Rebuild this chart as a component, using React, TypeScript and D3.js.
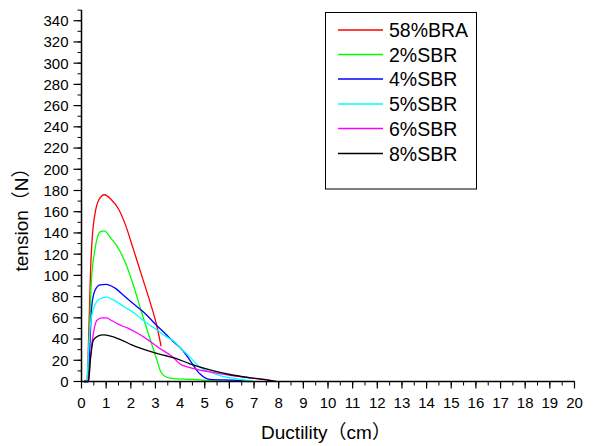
import React from "react";
import * as d3 from "d3";

const W = 597;
const H = 446;

const seriesNames = ["58%BRA", "2%SBR", "4%SBR", "5%SBR", "6%SBR", "8%SBR"];
const seriesColors = ["#ff0000", "#00ff00", "#0000ff", "#00ffff", "#ff00ff", "#000000"];

const braX = [0.1, 0.22, 0.3, 0.37, 0.45, 0.54, 0.7, 0.93, 1.22, 1.49, 1.76, 2.1, 2.44, 2.78, 3.05, 3.23];
const braY = [0, 0, 50, 106, 140, 157, 171, 176, 171, 163, 149, 125, 100, 75, 53, 33];

const sbr2X = [0.1, 0.26, 0.33, 0.4, 0.55, 0.75, 0.93, 1.16, 1.43, 1.76, 2.1, 2.44, 2.78, 3.05, 3.22, 3.46, 3.68, 4.55, 5.5, 6.9];
const sbr2Y = [0, 0, 50, 94, 125, 141, 142, 136, 128, 113, 91, 65, 40, 21, 9, 4, 3, 2, 0.5, 0];

const sbr4X = [0.1, 0.29, 0.35, 0.42, 0.55, 0.75, 1.0, 1.36, 1.76, 2.17, 2.58, 3.0, 3.4, 3.8, 4.0, 4.4, 4.81, 5.21, 6.3, 6.8];
const sbr4Y = [0, 0, 40, 72, 86, 91, 91.5, 88, 80, 72, 64, 54, 45, 36, 32, 20, 7, 2, 1, 0];

const sbr5X = [0.05, 0.21, 0.29, 0.36, 0.49, 0.75, 1.02, 1.36, 1.76, 2.17, 2.58, 2.98, 3.39, 3.79, 4.0, 4.4, 4.81, 5.21, 5.62, 6.3, 6.9, 7.0];
const sbr5Y = [0, 0, 30, 53, 69, 78, 79.5, 76, 70, 64, 56, 50, 43, 37, 32, 23, 13.5, 9, 5.5, 2.5, 0.5, 0];

const sbr6X = [0.1, 0.29, 0.37, 0.49, 0.62, 0.82, 1.02, 1.22, 1.49, 1.9, 2.31, 2.71, 3.12, 3.7, 4.0, 4.4, 5.21, 6.02, 6.84, 7.65, 7.8];
const sbr6Y = [0, 0, 25, 46.5, 57.5, 60, 60, 57.5, 54, 50, 45, 39, 32, 23, 16.5, 13, 9, 5.7, 3.5, 1, 0];

const sbr8X = [0.1, 0.28, 0.35, 0.48, 0.68, 0.88, 1.22, 1.63, 2.04, 2.44, 2.98, 3.39, 3.79, 4.4, 5.21, 6.02, 6.84, 7.65, 7.9];
const sbr8Y = [0, 0, 18, 39, 43, 44, 42.5, 39, 34.5, 31, 27, 24.5, 22, 16.7, 11, 6.6, 3.5, 1, 0];

const seriesX = [braX, sbr2X, sbr4X, sbr5X, sbr6X, sbr8X];
const seriesY = [braY, sbr2Y, sbr4Y, sbr5Y, sbr6Y, sbr8Y];

const xMajorTicks = d3.range(0, 21, 1);
const xMinorTicks = d3.range(0, 20.01, 0.5);
const yMajorTicks = d3.range(0, 341, 20);
const yMinorTicks = d3.range(0, 351, 10);

const FONT = "'Liberation Sans', Arial, 'Noto Sans CJK SC', sans-serif";

export default function App() {
  const x = d3.scaleLinear().domain([0, 20]).range([81.5, 574.5]);
  const y = d3.scaleLinear().domain([0, 350]).range([381.5, 10.1]);

  const line = d3
    .line<[number, number]>()
    .x((d) => x(d[0]))
    .y((d) => y(d[1]))
    .curve(d3.curveMonotoneX);

  const legendX0 = 338;
  const legendX1 = 383;
  const legendRows = [30, 54.5, 79, 104, 128.5, 153.5];

  return (
    <svg
      width={W}
      height={H}
      style={{ position: "absolute", left: 0, top: 0, background: "#fff" }}
      fontFamily={FONT}
    >
      <rect x={0} y={0} width={W} height={H} fill="#fff" />
      {seriesX.map((xs, i) => {
        const pts: [number, number][] = xs.map((v, j) => [v, seriesY[i][j]]);
        return (
          <path
            key={seriesNames[i]}
            d={line(pts) || ""}
            fill="none"
            stroke={seriesColors[i]}
            strokeWidth={1.3}
          />
        );
      })}

      {/* Y axis */}
      <line x1={81.5} x2={81.5} y1={y(350)} y2={y(0)} stroke="#000" strokeWidth={1.5} />
      {yMinorTicks.map((t) => (
        <line key={"ym" + t} x1={81.5 - 4} x2={81.5} y1={y(t)} y2={y(t)} stroke="#000" strokeWidth={1} />
      ))}
      {yMajorTicks.map((t) => (
        <g key={"yM" + t}>
          <line x1={81.5 - 8} x2={81.5} y1={y(t)} y2={y(t)} stroke="#000" strokeWidth={1.2} />
          <text x={68.5} y={y(t) + 5.4} fontSize={15} textAnchor="end" fill="#000">
            {t}
          </text>
        </g>
      ))}

      {/* X axis */}
      <line x1={x(0)} x2={x(20)} y1={381.5} y2={381.5} stroke="#000" strokeWidth={1.5} />
      {xMinorTicks.map((t) => (
        <line key={"xm" + t} x1={x(t)} x2={x(t)} y1={381.5} y2={381.5 + 4} stroke="#000" strokeWidth={1} />
      ))}
      {xMajorTicks.map((t) => (
        <g key={"xM" + t}>
          <line x1={x(t)} x2={x(t)} y1={381.5} y2={381.5 + 7} stroke="#000" strokeWidth={1.2} />
          <text x={x(t)} y={407.5} fontSize={15} textAnchor="middle" fill="#000">
            {t}
          </text>
        </g>
      ))}

      {/* Axis titles */}
      <text x={326} y={439} fontSize={19} textAnchor="middle" fill="#000">
        Ductility（cm）
      </text>
      <text
        transform={`translate(28,215) rotate(-90)`}
        fontSize={19}
        textAnchor="middle"
        fill="#000"
      >
        tension（N）
      </text>

      {/* Legend */}
      <rect x={325.5} y={12.5} width={151} height={176.5} fill="#fff" stroke="#000" strokeWidth={1} />
      {seriesNames.map((n, i) => (
        <g key={"lg" + n}>
          <line
            x1={legendX0}
            x2={legendX1}
            y1={legendRows[i]}
            y2={legendRows[i]}
            stroke={seriesColors[i]}
            strokeWidth={1.3}
          />
          <text x={389} y={legendRows[i] + 7} fontSize={19.5} fill="#000">
            {n}
          </text>
        </g>
      ))}
    </svg>
  );
}
